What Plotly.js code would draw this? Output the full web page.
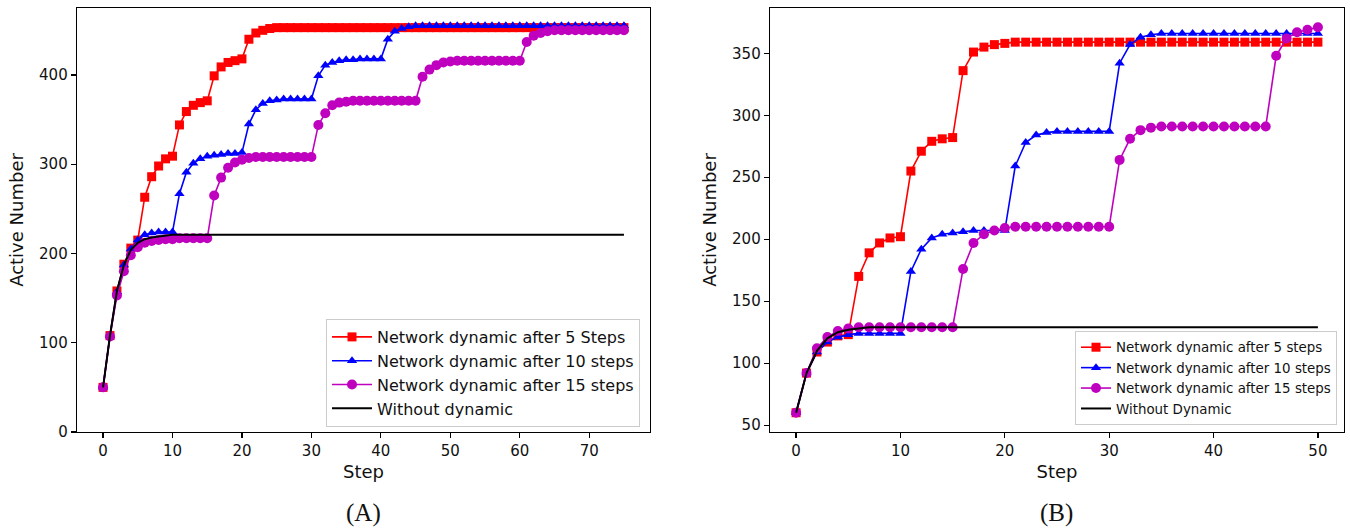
<!DOCTYPE html>
<html>
<head>
<meta charset="utf-8">
<script src="https://cdn.plot.ly/plotly-3.0.1.min.js"></script>
<style>html,body{margin:0;padding:0;background:#fff;}#chart{width:1350px;height:528px;}</style>
</head>
<body>
<div id="chart"></div>
<script>
// ---------- Panel (A) data ----------
const stepsA = [0,1,2,3,4,5,6,7,8,9,10,11,12,13,14,15,16,17,18,19,20,21,22,23,24,25,26,27,28,29,30,31,32,33,34,35,36,37,38,39,40,41,42,43,44,45,46,47,48,49,50,51,52,53,54,55,56,57,58,59,60,61,62,63,64,65,66,67,68,69,70,71,72,73,74,75];
const redA = [50,108,158,188,206,215,263,286,298,306,309,344,359,366,369,371,399,409,414,416,418,440,447,450,452,453,
  453,453,453,453,453,453,453,453,453,453,453,453,453,453,453,453,453,453,453,453,453,453,453,453,
  453,453,453,453,453,453,453,453,453,453,453,453,453,453,453,453,453,453,453,453,453,453,453,453,453,453];
const blueA = [50,108,157,187,205,215,221,223,224,224,224,267,291,301,306,309,310,311,312,312,313,345,361,368,371,372,373,373,373,373,373,
  399,411,414,416,417,417,418,418,418,418,440,449,452,454,455,
  455,455,455,455,455,455,455,455,455,455,455,455,455,455,455,455,455,455,455,455,455,455,455,455,455,455,455,455,455,455];
const purpleA = [50,107,153,180,198,207,212,214,215,216,216,217,217,217,217,217,265,285,296,302,305,307,308,308,308,308,308,308,308,308,308,
  344,357,366,369,370,371,371,371,371,371,371,371,371,371,371,
  398,406,411,414,415,416,416,416,416,416,416,416,416,416,416,
  437,444,447,449,450,450,450,450,450,450,450,450,450,450,450];
const blackA = [50,108,158,187,204,212,216,218,219,220,221,221,221,221,221,221,221,221,221,221,221,221,221,221,221,221,
  221,221,221,221,221,221,221,221,221,221,221,221,221,221,221,221,221,221,221,221,221,221,221,221,
  221,221,221,221,221,221,221,221,221,221,221,221,221,221,221,221,221,221,221,221,221,221,221,221,221,221];
const namesA = ["Network dynamic after 5 Steps","Network dynamic after 10 steps","Network dynamic after 15 steps","Without dynamic"];

// ---------- Panel (B) data ----------
const stepsB = [0,1,2,3,4,5,6,7,8,9,10,11,12,13,14,15,16,17,18,19,20,21,22,23,24,25,26,27,28,29,30,31,32,33,34,35,36,37,38,39,40,41,42,43,44,45,46,47,48,49,50];
const redB = [60,92,109,117,122,123,170,189,197,201,202,255,271,279,281,282,336,351,355,357,358,
  359,359,359,359,359,359,359,359,359,359,359,359,359,359,359,359,359,359,359,359,359,359,359,359,359,359,359,359,359,359];
const blueB = [60,92,109,117,121,123,124,124,124,124,124,174,192,201,204,205,206,207,207,207,207,259,278,284,286,287,287,287,287,287,287,
  342,357,363,365,366,366,366,366,366,366,366,366,366,366,366,366,366,366,366,366];
const purpleB = [60,92,112,121,126,128,129,129,129,129,129,129,129,129,129,129,176,197,204,207,209,210,210,210,210,210,210,210,210,210,210,
  264,281,288,290,291,291,291,291,291,291,291,291,291,291,291,348,362,367,369,371];
const blackB = [60,92,110,120,125,127,128,129,129,129,129,129,129,129,129,129,129,129,129,129,129,129,129,129,129,129,
  129,129,129,129,129,129,129,129,129,129,129,129,129,129,129,129,129,129,129,129,129,129,129,129,129];
const namesB = ["Network dynamic after 5 steps","Network dynamic after 10 steps","Network dynamic after 15 steps","Without Dynamic"];

const tickA_x = [0,10,20,30,40,50,60,70];
const tickA_y = [0,100,200,300,400];
const tickB_x = [0,10,20,30,40,50];
const tickB_y = [50,100,150,200,250,300,350];

const RED = '#ff0000', BLUE = '#0000ff', MAG = '#bf00bf', BLK = '#000000';
const FONT = 'DejaVu Sans, sans-serif';

function series(x, y, name, color, symbol, size, xa, ya, leg) {
  const t = {x: x, y: y, name: name, type: 'scatter', xaxis: xa, yaxis: ya, legend: leg,
    line: {color: color, width: 1.6}};
  if (symbol) { t.mode = 'lines+markers'; t.marker = {symbol: symbol, size: size, color: color}; }
  else { t.mode = 'lines'; t.line.width = 2; }
  return t;
}

const data = [
  series(stepsA, redA, namesA[0], RED, 'square', 9, 'x', 'y', 'legend'),
  series(stepsA, blueA, namesA[1], BLUE, 'triangle-up', 9, 'x', 'y', 'legend'),
  series(stepsA, purpleA, namesA[2], MAG, 'circle', 10, 'x', 'y', 'legend'),
  series(stepsA, blackA, namesA[3], BLK, null, 0, 'x', 'y', 'legend'),
  series(stepsB, redB, namesB[0], RED, 'square', 9, 'x2', 'y2', 'legend2'),
  series(stepsB, blueB, namesB[1], BLUE, 'triangle-up', 9, 'x2', 'y2', 'legend2'),
  series(stepsB, purpleB, namesB[2], MAG, 'circle', 10, 'x2', 'y2', 'legend2'),
  series(stepsB, blackB, namesB[3], BLK, null, 0, 'x2', 'y2', 'legend2')
];

const W = 1350, H = 528;
const yDom = [(H - 432) / H, (H - 8) / H];

function axis(dom, range, tickvals, anchor, title, standoff) {
  return {
    domain: dom, range: range, tickvals: tickvals, anchor: anchor,
    showgrid: false, zeroline: false, showline: true, mirror: true,
    linecolor: '#000', linewidth: 1.3, ticks: 'outside', ticklen: 5, tickwidth: 1.2, tickcolor: '#000',
    tickfont: {family: FONT, size: 15, color: '#111'},
    title: {text: title, font: {family: FONT, size: 18, color: '#111'}, standoff: standoff}
  };
}

const layout = {
  width: W, height: H,
  margin: {l: 0, r: 0, t: 0, b: 0},
  paper_bgcolor: '#fff', plot_bgcolor: '#fff',
  font: {family: FONT, color: '#111'},
  xaxis: axis([77 / W, 650 / W], [-3.75, 78.75], tickA_x, 'y', 'Step', 6),
  yaxis: axis(yDom, [0, 475], tickA_y, 'x', 'Active Number', 10),
  xaxis2: axis([770 / W, 1344 / W], [-2.5, 52.5], tickB_x, 'y2', 'Step', 6),
  yaxis2: axis(yDom, [44.45, 386.55], tickB_y, 'x2', 'Active Number', 10),
  legend: {x: 326 / W, y: (H - 319) / H, xanchor: 'left', yanchor: 'top', itemwidth: 40,
    bgcolor: 'rgba(255,255,255,0.85)', bordercolor: '#cccccc', borderwidth: 1,
    font: {family: FONT, size: 16, color: '#111'}},
  legend2: {x: 1075 / W, y: (H - 331) / H, xanchor: 'left', yanchor: 'top',
    bgcolor: 'rgba(255,255,255,0.85)', bordercolor: '#cccccc', borderwidth: 1,
    font: {family: FONT, size: 13.4, color: '#111'}},
  annotations: [
    {text: '(A)', xref: 'paper', yref: 'paper', x: 363 / W, y: (H - 513) / H, xanchor: 'center', yanchor: 'middle',
      showarrow: false, font: {family: 'Liberation Serif, Times New Roman, serif', size: 25, color: '#111'}},
    {text: '(B)', xref: 'paper', yref: 'paper', x: 1056 / W, y: (H - 513) / H, xanchor: 'center', yanchor: 'middle',
      showarrow: false, font: {family: 'Liberation Serif, Times New Roman, serif', size: 25, color: '#111'}}
  ]
};

Plotly.newPlot('chart', data, layout, {displayModeBar: false, staticPlot: true});
</script>
</body>
</html>
